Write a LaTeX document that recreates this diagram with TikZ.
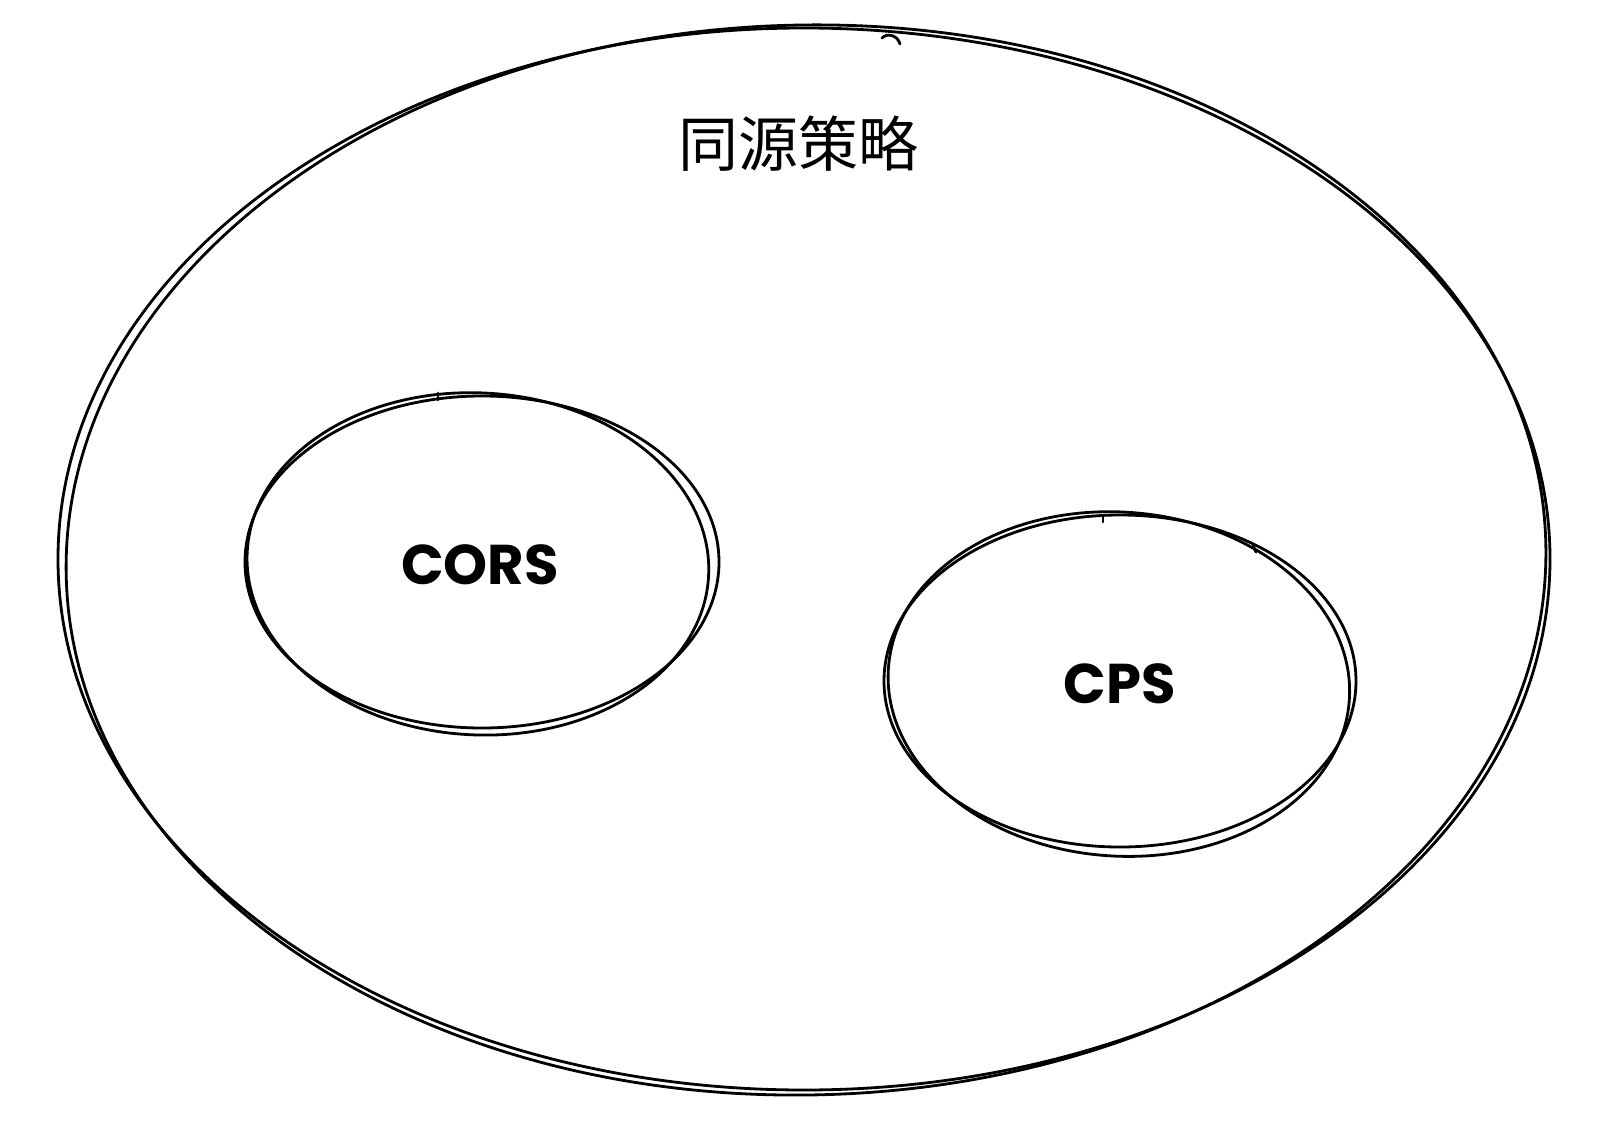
\documentclass[tikz,border=0pt]{standalone}
\usepackage{fontspec}
\setmainfont{Liberation Sans}
\newfontfamily\cjk{Noto Sans CJK SC}
\newfontfamily\handfont{Poppins}
\begin{document}
\begin{tikzpicture}[x=1pt,y=-1pt,
  sk/.style={line width=2.8pt, line cap=round, line join=round},
  lbl/.style={inner sep=0pt, font=\handfont\bfseries\fontsize{56}{60}\selectfont}]
\useasboundingbox (0,0) rectangle (1604,1124);
% outer ellipse (double stroke)
\draw[sk] (804,559) ellipse [x radius=746, y radius=531];
\draw[sk, rotate around={1.2:(805,559)}] (806,560) ellipse [x radius=740, y radius=535];
\draw[sk] (882,38) .. controls (888,32) and (898,36) .. (900,44);
% CORS ellipse
\draw[sk] (482,562) ellipse [x radius=237, y radius=166];
\draw[sk, rotate around={-3:(480,562)}] (478,564) ellipse [x radius=231, y radius=171];
\draw[sk] (438,393) -- (438,400);
% CPS ellipse
\draw[sk] (1120,681) ellipse [x radius=236, y radius=166];
\draw[sk, rotate around={-4:(1118,682)}] (1119,684) ellipse [x radius=231, y radius=172];
\draw[sk] (1103,516) -- (1103,522);
\draw[sk] (1253,546) -- (1256,552);
% labels
\node (title) at (798,144) {\cjk\fontsize{60}{62}\selectfont 同源策略};
\node[lbl] (cors) at (480,565) {CORS};
\node[lbl] (cps) at (1120,684) {CPS};
\end{tikzpicture}
\end{document}
